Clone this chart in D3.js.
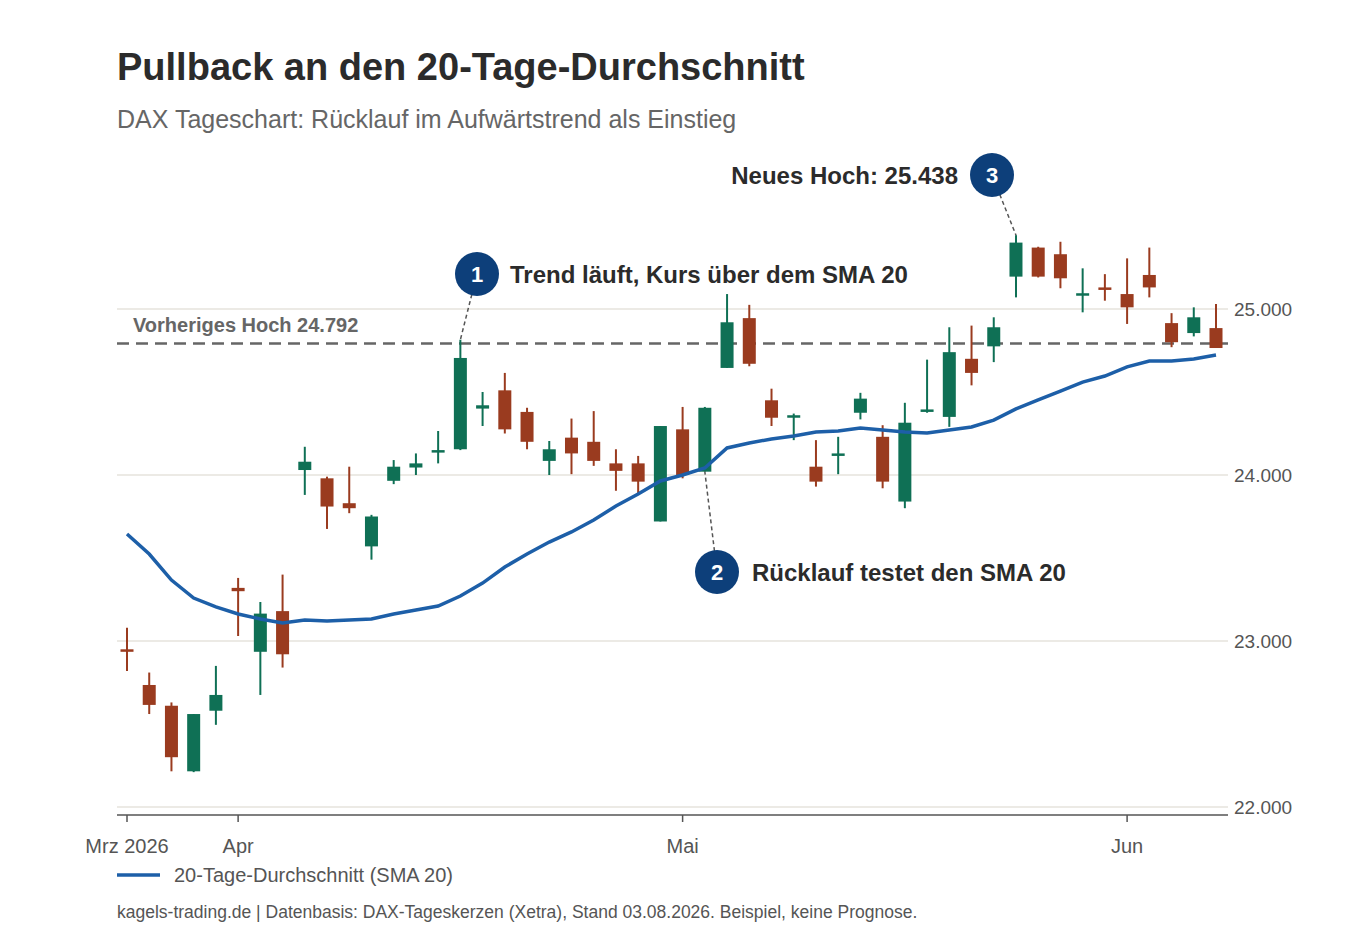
<!DOCTYPE html>
<html><head><meta charset="utf-8">
<script src="https://cdn.jsdelivr.net/npm/d3@7"></script>
<style>body{margin:0;background:#fff;font-family:"Liberation Sans",Arial,sans-serif}</style>
</head><body><svg id="c" width="1360" height="940"></svg>
<script>
const opens  = [22950,22735,22610,22215,22580,23320,22935,23180,24030,23980,23830,23570,23965,24045,24140,24155,24400,24510,24380,24085,24225,24200,24070,24070,23720,24275,24020,24645,24945,24450,24345,24050,24125,24375,24230,23840,24385,24350,24700,24775,25195,25370,25330,25085,25130,25090,25205,24915,24855,24885];
const highs  = [23080,22810,22630,22560,22850,23380,23235,23400,24170,23990,24050,23760,24090,24130,24265,24815,24500,24615,24405,24205,24340,24385,24155,24115,24295,24410,24410,25090,25025,24520,24370,24210,24230,24495,24300,24435,24695,24890,24900,24950,25445,25375,25405,25245,25210,25305,25370,24975,25010,25030];
const lows   = [22820,22560,22215,22210,22495,23030,22675,22840,23880,23675,23770,23490,23945,24000,24070,24150,24295,24250,24155,24000,24005,24055,23905,23890,23720,23980,24020,24645,24655,24295,24210,23930,24005,24335,23920,23800,24375,24290,24540,24680,25070,25190,25125,24980,25050,24910,25070,24770,24835,24765];
const closes = [22940,22615,22300,22560,22675,23300,23165,22920,24080,23810,23800,23750,24050,24070,24150,24705,24420,24275,24200,24155,24130,24085,24025,23960,24295,24000,24405,24920,24670,24345,24360,23960,24130,24460,23960,24315,24395,24740,24615,24890,25400,25195,25185,25095,25115,25010,25130,24800,24950,24765];
const sma20  = [23645,23524,23367,23259,23205,23163,23133,23108,23127,23120,23127,23133,23163,23187,23211,23271,23349,23446,23524,23596,23657,23729,23813,23886,23964,24000,24042,24163,24193,24217,24235,24259,24265,24283,24271,24259,24253,24271,24289,24331,24398,24452,24506,24560,24596,24651,24687,24687,24699,24723];
const monthTicks = [0,5,25,45];
const monthLabels = ["Mrz 2026","Apr","Mai","Jun"];
const yTicks = [22000,23000,24000,25000];
const prevHigh = 24792;

const svg = d3.select("#c");
const x = d3.scaleLinear().domain([0,49]).range([127,1216]);
const y = d3.scaleLinear().domain([22000,25000]).range([807,309]);
const L=117,R=1228;
const fmt = d3.formatLocale({decimal:",",thousands:".",grouping:[3]}).format(",d");

svg.append("text").attr("x",117).attr("y",80).attr("font-size",38).attr("font-weight","bold").attr("fill","#2b2b2b").text("Pullback an den 20-Tage-Durchschnitt");
svg.append("text").attr("x",117).attr("y",128).attr("font-size",25).attr("fill","#666").text("DAX Tageschart: Rücklauf im Aufwärtstrend als Einstieg");

svg.selectAll(".g").data(yTicks).join("line").attr("x1",L).attr("x2",R).attr("y1",d=>y(d)).attr("y2",d=>y(d)).attr("stroke","#e6e3dc").attr("stroke-width",1.5);
svg.selectAll(".yl").data(yTicks).join("text").attr("x",1234).attr("y",d=>y(d)+7).attr("font-size",19).attr("fill","#555").text(d=>fmt(d));

svg.append("line").attr("x1",L).attr("x2",R).attr("y1",815).attr("y2",815).attr("stroke","#555").attr("stroke-width",1.5);
svg.selectAll(".xt").data(monthTicks).join("line").attr("x1",d=>x(d)).attr("x2",d=>x(d)).attr("y1",815).attr("y2",822).attr("stroke","#555").attr("stroke-width",1.5);
svg.selectAll(".xl").data(monthTicks).join("text").attr("x",d=>x(d)).attr("y",853).attr("text-anchor","middle").attr("font-size",20).attr("fill","#555").text((d,i)=>monthLabels[i]);

svg.append("line").attr("x1",L).attr("x2",R).attr("y1",y(prevHigh)).attr("y2",y(prevHigh)).attr("stroke","#666").attr("stroke-width",2.5).attr("stroke-dasharray","12,7");
svg.append("text").attr("x",133).attr("y",y(prevHigh)-12).attr("font-size",20).attr("font-weight","bold").attr("fill","#666").text("Vorheriges Hoch "+d3.format(".3f")(prevHigh/1000));

const idx = d3.range(opens.length);
const col = i => closes[i]>=opens[i] ? "#0f7055" : "#9a3b1f";
svg.selectAll(".w").data(idx).join("line").attr("x1",i=>x(i)).attr("x2",i=>x(i)).attr("y1",i=>y(highs[i])).attr("y2",i=>y(lows[i])).attr("stroke",col).attr("stroke-width",2);
svg.selectAll(".b").data(idx).join("rect").attr("x",i=>x(i)-6.5).attr("width",13)
  .attr("y",i=>y(Math.max(opens[i],closes[i]))).attr("height",i=>Math.max(2.5,Math.abs(y(opens[i])-y(closes[i])))).attr("fill",col);

svg.append("path").datum(idx).attr("d",d3.line().x(i=>x(i)).y(i=>y(sma20[i]))).attr("fill","none").attr("stroke","#1d5fa8").attr("stroke-width",3.5);

function ann(n,cx,cy,tx,ty,label,anchor,lx){
  svg.append("line").attr("x1",cx).attr("y1",cy).attr("x2",tx).attr("y2",ty).attr("stroke","#555").attr("stroke-width",1.5).attr("stroke-dasharray","4,3");
  svg.append("circle").attr("cx",cx).attr("cy",cy).attr("r",22).attr("fill","#0d3f7a");
  svg.append("text").attr("x",cx).attr("y",cy+8).attr("text-anchor","middle").attr("font-size",22).attr("font-weight","bold").attr("fill","#fff").text(n);
  svg.append("text").attr("x",lx).attr("y",cy+9).attr("text-anchor",anchor).attr("font-size",24).attr("font-weight","bold").attr("fill","#2b2b2b").text(label);
}
ann("1",477,274,x(15),y(highs[15]),"Trend läuft, Kurs über dem SMA 20","start",510);
ann("2",717,572,x(26),y(lows[26]),"Rücklauf testet den SMA 20","start",752);
ann("3",992,175,x(40),y(highs[40]),"Neues Hoch: 25.438","end",958);

svg.append("line").attr("x1",117).attr("x2",160).attr("y1",875).attr("y2",875).attr("stroke","#1d5fa8").attr("stroke-width",3.5);
svg.append("text").attr("x",174).attr("y",882).attr("font-size",20).attr("fill","#555").text("20-Tage-Durchschnitt (SMA 20)");
svg.append("text").attr("x",117).attr("y",918).attr("font-size",17.5).attr("fill","#555").text("kagels-trading.de | Datenbasis: DAX-Tageskerzen (Xetra), Stand 03.08.2026. Beispiel, keine Prognose.");
</script></body></html>
